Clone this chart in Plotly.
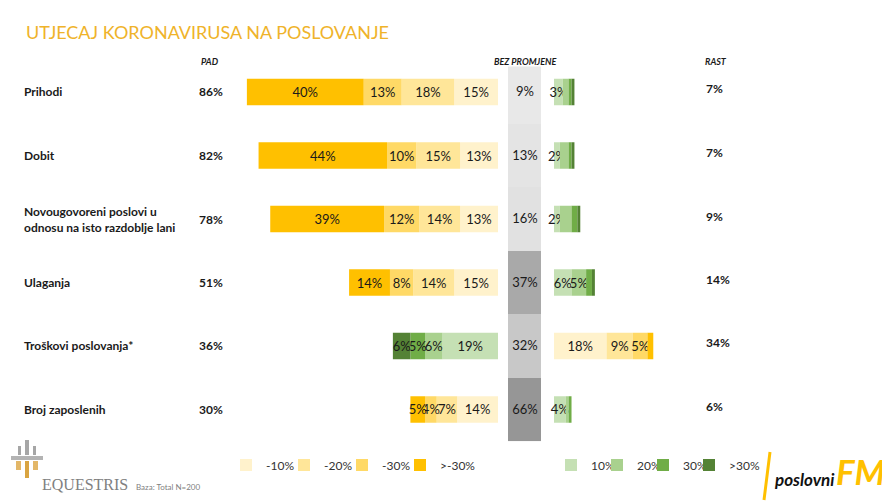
import plotly.graph_objects as go

# Data
rows = ["Prihodi", "Dobit", "Novougovoreni poslovi u<br>odnosu na isto razdoblje lani",
        "Ulaganja", "Troškovi poslovanja*", "Broj zaposlenih"]
pad_total = [86, 82, 78, 51, 36, 30]
bez_promjene = [9, 13, 16, 37, 32, 66]
rast_total = [7, 7, 9, 14, 34, 6]

# fall, split by size of the fall (from the centre outwards)
pad_10 = [15, 13, 13, 15, 19, 14]
pad_20 = [18, 15, 14, 14, 6, 7]
pad_30 = [13, 10, 12, 8, 5, 4]
pad_30p = [40, 44, 39, 14, 6, 5]

# growth, split the same way
rast_10 = [3, 2, 2, 6, 18, 4]
rast_20 = [2, 3, 4, 5, 9, 1]
rast_30 = [1, 1, 2, 2, 5, 1]
rast_30p = [1, 1, 1, 1, 2, 0]

pad_names = ["-10%", "-20%", "-30%", ">-30%"]
rast_names = ["10%", "20%", "30%", ">30%"]
# for costs a fall is the good news, so the colours swap sides
fall_is_good = [False, False, False, False, True, False]

orange = ["#fff2cc", "#ffe699", "#ffd966", "#ffc000"]
green = ["#c5e0b4", "#a9d18e", "#70ad47", "#548235"]

FONT = "Lato"
OFF = 8            # page body margin
W, H = 890 - OFF, 501 - OFF
SCALE = 2.92       # px per percent point


def px(x):
    return (x - OFF) / W


def py(y):
    return 1 - (y - OFF) / H


fig = go.Figure()

# left side (PAD)
for k, vals in enumerate([pad_10, pad_20, pad_30, pad_30p]):
    colors = [green[k] if good else orange[k] for good in fall_is_good]
    fig.add_trace(go.Bar(
        y=rows, x=[-v for v in vals], orientation="h", name=pad_names[k],
        marker=dict(color=colors, line_width=0), width=0.42,
        text=[f"{v}%" for v in vals], textposition="inside",
        insidetextanchor="middle", textangle=0, cliponaxis=False,
        textfont=dict(family=FONT, size=13, color="#1a1a1a"),
        xaxis="x", yaxis="y", legend="legend", hoverinfo="skip",
        legendwidth=36 if k == 3 else None))

# right side (RAST)
for k, vals in enumerate([rast_10, rast_20, rast_30, rast_30p]):
    colors = [orange[k] if good else green[k] for good in fall_is_good]
    labels = [f"{v}%" if (k == 0 or v >= 5) else "" for v in vals]
    fig.add_trace(go.Bar(
        y=rows, x=vals, orientation="h", name=rast_names[k],
        marker=dict(color=colors, line_width=0), width=0.42,
        text=labels, textposition="inside",
        insidetextanchor="middle", textangle=0, cliponaxis=False,
        textfont=dict(family=FONT, size=13, color="#1a1a1a"),
        xaxis="x3", yaxis="y", legend="legend2", hoverinfo="skip",
        legendwidth=30 if k == 3 else None))

# middle column (BEZ PROMJENE)
fig.add_trace(go.Heatmap(
    z=[[v] for v in bez_promjene], x=["BEZ PROMJENE"], y=rows,
    xaxis="x2", yaxis="y", zmin=9, zmax=66, showscale=False,
    colorscale=[[0, "#e8e8e8"], [0.15, "#e0e0e0"], [0.40, "#c9c9c9"],
                [0.49, "#a9a9a9"], [1, "#969696"]],
    texttemplate="%{z}%", textfont=dict(family=FONT, size=13, color="#1a1a1a"),
    hoverinfo="skip"))

ann = []
ann.append(dict(text="UTJECAJ KORONAVIRUSA NA POSLOVANJE", x=px(24), y=py(32),
                xanchor="left", yanchor="middle",
                font=dict(size=18, color="#efb32a", family=FONT)))
for txt, xx in [("PAD", 210), ("BEZ PROMJENE", 525), ("RAST", 716)]:
    ann.append(dict(text=f"<b><i>{txt}</i></b>", x=px(xx), y=py(62),
                    xanchor="center", yanchor="middle",
                    font=dict(size=9, color="#1a1a1a")))
for r, p, g in zip(rows, pad_total, rast_total):
    ann.append(dict(text=f"<b>{r}</b>", x=px(22), y=r, yref="y",
                    xanchor="left", yanchor="middle", align="left",
                    font=dict(size=12, color="#1a1a1a")))
    ann.append(dict(text=f"<b>{p}%</b>", x=px(197), y=r, yref="y",
                    xanchor="left", yanchor="middle",
                    font=dict(size=12, color="#1a1a1a")))
    ann.append(dict(text=f"<b>{g}%</b>", x=px(704), y=r, yref="y", yshift=3,
                    xanchor="left", yanchor="middle",
                    font=dict(size=12, color="#1a1a1a")))
ann.append(dict(text="EQUESTRIS", x=px(40), y=py(484), xanchor="left", yanchor="middle",
                font=dict(size=16, color="#808080", family="Liberation Serif")))
ann.append(dict(text="Baza: Total N=200", x=px(134), y=py(487), xanchor="left",
                yanchor="middle", font=dict(size=8, color="#808080")))
ann.append(dict(text="<b><i>poslovni</i></b>", x=px(772), y=py(479), xanchor="left",
                yanchor="middle", font=dict(size=17, color="#111111")))
ann.append(dict(text="<b><i>FM</i></b>", x=px(834), y=py(471), xanchor="left",
                yanchor="middle", font=dict(size=35, color="#ffc000")))
for a in ann:
    a.setdefault("xref", "paper")
    a.setdefault("yref", "paper")
    a["showarrow"] = False


def box(x0, y0, x1, y1, color):
    return dict(type="rect", xref="paper", yref="paper", x0=px(x0), y0=py(y0),
                x1=px(x1), y1=py(y1), fillcolor=color, line_width=0)


shapes = [
    # poslovniFM slash
    dict(type="line", xref="paper", yref="paper", x0=px(770), y0=py(452),
         x1=px(764), y1=py(500), line=dict(color="#ffc000", width=3)),
    # Equestris emblem (rough)
    box(25, 440, 29, 455, "#a6a6a6"),
    box(18, 446, 21, 455, "#a6a6a6"),
    box(33, 446, 36, 455, "#a6a6a6"),
    box(11, 456, 43, 460, "#b3b3b3"),
    box(25, 461, 29, 478, "#d9a441"),
    box(16, 461, 21, 470, "#e3b768"),
    box(33, 461, 38, 470, "#e3b768"),
]

fig.update_layout(
    width=W, height=H, margin=dict(l=0, r=0, t=0, b=0),
    barmode="relative", paper_bgcolor="white", plot_bgcolor="white",
    font=dict(family=FONT, color="#1a1a1a"),
    uniformtext=dict(minsize=13, mode="show"),
    xaxis=dict(domain=[px(240), px(498)], range=[-(498 - 240) / SCALE, 0], visible=False),
    xaxis2=dict(domain=[px(508), px(541)], range=[-0.5, 0.5], visible=False, anchor="y"),
    xaxis3=dict(domain=[px(554), px(700)], range=[0, (700 - 554) / SCALE], visible=False, anchor="y"),
    yaxis=dict(domain=[py(441.25), py(66.6)], range=[5.5, -0.4], visible=False, type="category"),
    legend=dict(orientation="h", x=px(226), y=py(465), xanchor="left", yanchor="middle",
                entrywidth=13, entrywidthmode="pixels", font=dict(size=12, color="#333333"),
                bgcolor="rgba(0,0,0,0)", traceorder="normal"),
    legend2=dict(orientation="h", x=px(551), y=py(465), xanchor="left", yanchor="middle",
                 entrywidth=1, entrywidthmode="pixels", font=dict(size=12, color="#333333"),
                 bgcolor="rgba(0,0,0,0)", traceorder="normal"),
    annotations=ann, shapes=shapes,
)

fig.write_html("out.html")
